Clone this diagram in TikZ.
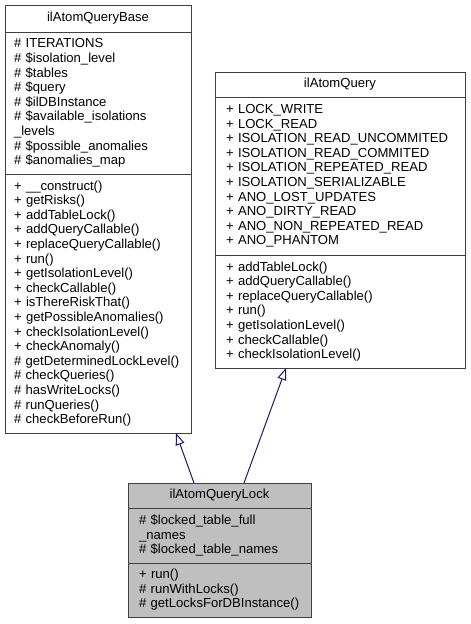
\documentclass[tikz,border=0pt]{standalone}
\usepackage{fontspec}
\setmainfont{Liberation Sans}
\usetikzlibrary{positioning, arrows.meta}
\definecolor{boxline}{HTML}{404040}
\definecolor{edgeblue}{HTML}{191970}
\definecolor{lockfill}{HTML}{BFBFBF}
\newcommand{\umlfont}{\fontsize{13.1}{14.6}\selectfont\hyphenpenalty=10000}
\tikzstyle{part} = [rectangle, draw=boxline, line width=1pt, fill=white, inner xsep=11pt, inner ysep=0pt, outer sep=0pt, font=\umlfont]
\tikzstyle{classname} = [part, align=center]
\tikzstyle{members} = [part, align=left]
\tikzstyle{inherit} = [draw=edgeblue, line width=1pt, -{Triangle[open, length=12pt, width=9pt, fill=white]}]

\begin{document}
\begin{tikzpicture}[x=1pt, y=1pt]
\useasboundingbox (0,0) rectangle (471,-624);

% base class
\node (basename) [classname, anchor=north west, minimum width=186pt, minimum height=27pt] at (5,-5) {ilAtomQueryBase};
\node (baseattr) [members, inner xsep=9pt, below=0pt of basename, text width=168pt, minimum height=142pt] {\# ITERATIONS\\ \# \$isolation\_level\\ \# \$tables\\ \# \$query\\ \# \$ilDBInstance\\ \# \$available\_isolations\\ \_levels\\ \# \$possible\_anomalies\\ \# \$anomalies\_map};
\node (baseops) [members, inner xsep=9pt, below=0pt of baseattr, text width=168pt, minimum height=259pt] {+ \_\_construct()\\ + getRisks()\\ + addTableLock()\\ + addQueryCallable()\\ + replaceQueryCallable()\\ + run()\\ + getIsolationLevel()\\ + checkCallable()\\ + isThereRiskThat()\\ + getPossibleAnomalies()\\ + checkIsolationLevel()\\ + checkAnomaly()\\ \# getDeterminedLockLevel()\\ \# checkQueries()\\ \# hasWriteLocks()\\ \# runQueries()\\ \# checkBeforeRun()};

% interface
\node (queryname) [classname, anchor=north west, minimum width=250pt, minimum height=25pt] at (215,-72) {ilAtomQuery};
\node (queryattr) [members, below=0pt of queryname, text width=228pt, minimum height=158pt] {+ LOCK\_WRITE\\ + LOCK\_READ\\ + ISOLATION\_READ\_UNCOMMITED\\ + ISOLATION\_READ\_COMMITED\\ + ISOLATION\_REPEATED\_READ\\ + ISOLATION\_SERIALIZABLE\\ + ANO\_LOST\_UPDATES\\ + ANO\_DIRTY\_READ\\ + ANO\_NON\_REPEATED\_READ\\ + ANO\_PHANTOM};
\node (queryops) [members, below=0pt of queryattr, text width=228pt, minimum height=113pt] {+ addTableLock()\\ + addQueryCallable()\\ + replaceQueryCallable()\\ + run()\\ + getIsolationLevel()\\ + checkCallable()\\ + checkIsolationLevel()};

% lock class
\node (lockname) [classname, fill=lockfill, anchor=north west, minimum width=183pt, minimum height=25pt] at (128,-483) {ilAtomQueryLock};
\node (lockattr) [members, fill=lockfill, below=0pt of lockname, text width=161pt, minimum height=55pt] {\# \$locked\_table\_full\\ \_names\\ \# \$locked\_table\_names};
\node (lockops) [members, fill=lockfill, below=0pt of lockattr, text width=161pt, minimum height=54pt] {+ run()\\ \# runWithLocks()\\ \# getLocksForDBInstance()};

\draw[inherit] ([xshift=66pt]lockname.north west) -- ([xshift=171pt]baseops.south west);
\draw[inherit] ([xshift=116pt]lockname.north west) -- ([xshift=71pt]queryops.south west);

\end{tikzpicture}
\end{document}
